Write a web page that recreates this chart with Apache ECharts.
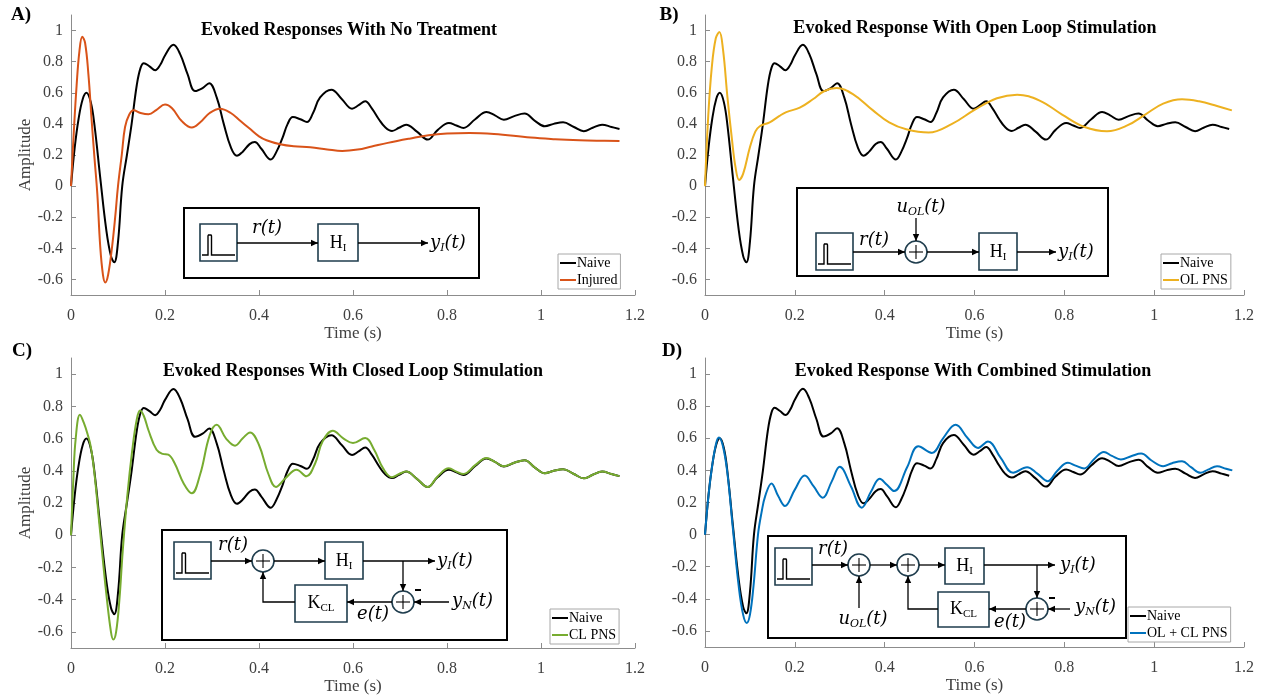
<!DOCTYPE html>
<html>
<head>
<meta charset="utf-8">
<script src="https://cdn.jsdelivr.net/npm/echarts@6/dist/echarts.min.js"></script>
<style>
  html, body { margin: 0; background: #fff; }
  #chart { width: 1268px; height: 696px; }
</style>
</head>
<body>
<div id="chart"></div>
<script>
// values (time in s, amplitude)
const naiveTime = [0, 0.008, 0.016, 0.025, 0.033, 0.042, 0.05, 0.062, 0.075, 0.085, 0.092, 0.1, 0.109, 0.119, 0.129, 0.14, 0.148, 0.155, 0.167, 0.179, 0.19, 0.2, 0.218, 0.232, 0.248, 0.264, 0.28, 0.294, 0.31, 0.325, 0.34, 0.353, 0.365, 0.38, 0.391, 0.405, 0.425, 0.437, 0.45, 0.461, 0.472, 0.488, 0.502, 0.515, 0.53, 0.554, 0.576, 0.598, 0.612, 0.626, 0.64, 0.655, 0.668, 0.683, 0.698, 0.713, 0.736, 0.759, 0.78, 0.804, 0.82, 0.835, 0.86, 0.884, 0.902, 0.921, 0.943, 0.965, 0.987, 1.008, 1.027, 1.047, 1.07, 1.091, 1.11, 1.13, 1.15, 1.167];
const naiveAmp = [0, 0.25, 0.43, 0.56, 0.6, 0.54, 0.39, 0.06, -0.28, -0.45, -0.49, -0.36, 0.0, 0.2, 0.4, 0.65, 0.76, 0.79, 0.77, 0.745, 0.78, 0.84, 0.908, 0.85, 0.72, 0.611, 0.63, 0.662, 0.57, 0.4, 0.25, 0.195, 0.22, 0.27, 0.284, 0.24, 0.171, 0.22, 0.31, 0.4, 0.444, 0.43, 0.412, 0.47, 0.57, 0.62, 0.56, 0.498, 0.52, 0.545, 0.5, 0.43, 0.38, 0.355, 0.375, 0.395, 0.35, 0.299, 0.36, 0.406, 0.39, 0.374, 0.43, 0.476, 0.455, 0.427, 0.45, 0.466, 0.42, 0.385, 0.4, 0.41, 0.38, 0.353, 0.375, 0.395, 0.38, 0.367];

const injuredTime = [0, 0.006, 0.012, 0.018, 0.024, 0.03, 0.037, 0.044, 0.05, 0.056, 0.062, 0.068, 0.073, 0.079, 0.087, 0.094, 0.1, 0.108, 0.115, 0.124, 0.133, 0.148, 0.165, 0.182, 0.2, 0.215, 0.235, 0.257, 0.275, 0.295, 0.317, 0.34, 0.36, 0.38, 0.4, 0.416, 0.445, 0.474, 0.509, 0.545, 0.577, 0.61, 0.64, 0.674, 0.72, 0.761, 0.8, 0.848, 0.9, 0.978, 1.03, 1.082, 1.12, 1.167];
const injuredAmp = [0, 0.35, 0.65, 0.87, 0.96, 0.92, 0.72, 0.42, 0.18, -0.05, -0.38, -0.57, -0.62, -0.57, -0.4, -0.2, 0.0, 0.2, 0.38, 0.46, 0.487, 0.47, 0.462, 0.49, 0.524, 0.5, 0.42, 0.376, 0.41, 0.47, 0.498, 0.47, 0.42, 0.37, 0.32, 0.295, 0.269, 0.256, 0.25, 0.236, 0.226, 0.235, 0.255, 0.278, 0.305, 0.327, 0.338, 0.342, 0.335, 0.312, 0.302, 0.295, 0.292, 0.29];

const olTime = [0, 0.007, 0.015, 0.024, 0.032, 0.04, 0.05, 0.06, 0.068, 0.076, 0.085, 0.1, 0.112, 0.122, 0.144, 0.165, 0.181, 0.211, 0.241, 0.265, 0.293, 0.33, 0.374, 0.41, 0.448, 0.498, 0.55, 0.6, 0.65, 0.695, 0.745, 0.795, 0.845, 0.895, 0.94, 0.98, 1.02, 1.062, 1.1, 1.14, 1.173];
const olAmp = [0, 0.44, 0.76, 0.95, 0.99, 0.88, 0.57, 0.3, 0.12, 0.04, 0.08, 0.25, 0.35, 0.385, 0.41, 0.45, 0.476, 0.504, 0.56, 0.61, 0.63, 0.59, 0.487, 0.41, 0.365, 0.344, 0.4, 0.49, 0.565, 0.588, 0.55, 0.46, 0.38, 0.353, 0.39, 0.46, 0.53, 0.558, 0.545, 0.515, 0.487];

const clTime = [0, 0.005, 0.01, 0.019, 0.027, 0.035, 0.042, 0.05, 0.062, 0.075, 0.085, 0.09, 0.096, 0.103, 0.11, 0.12, 0.13, 0.14, 0.147, 0.155, 0.165, 0.182, 0.195, 0.207, 0.22, 0.24, 0.257, 0.275, 0.295, 0.31, 0.33, 0.349, 0.365, 0.381, 0.4, 0.42, 0.436, 0.455, 0.48, 0.501, 0.52, 0.535, 0.557, 0.58, 0.6, 0.626, 0.645, 0.665, 0.683, 0.698, 0.713, 0.736, 0.759, 0.78, 0.804, 0.82, 0.835, 0.86, 0.884, 0.902, 0.921, 0.943, 0.965, 0.987, 1.008, 1.027, 1.047, 1.07, 1.091, 1.11, 1.13, 1.15, 1.167];
const clAmp = [0, 0.35, 0.6, 0.747, 0.7, 0.63, 0.55, 0.38, 0.02, -0.36, -0.6, -0.648, -0.6, -0.4, -0.1, 0.25, 0.52, 0.72, 0.774, 0.74, 0.65, 0.53, 0.505, 0.5, 0.45, 0.32, 0.26, 0.38, 0.62, 0.685, 0.6, 0.556, 0.6, 0.638, 0.56, 0.38, 0.3, 0.35, 0.407, 0.366, 0.45, 0.58, 0.648, 0.6, 0.572, 0.603, 0.53, 0.41, 0.36, 0.38, 0.395, 0.35, 0.299, 0.365, 0.415, 0.395, 0.38, 0.435, 0.48, 0.455, 0.428, 0.45, 0.466, 0.42, 0.385, 0.4, 0.41, 0.38, 0.353, 0.375, 0.395, 0.38, 0.367];

const olclTime = [0, 0.008, 0.016, 0.025, 0.031, 0.04, 0.05, 0.062, 0.075, 0.085, 0.093, 0.1, 0.108, 0.118, 0.126, 0.134, 0.148, 0.163, 0.178, 0.2, 0.222, 0.242, 0.262, 0.282, 0.3, 0.325, 0.349, 0.37, 0.389, 0.405, 0.421, 0.45, 0.475, 0.505, 0.53, 0.558, 0.585, 0.608, 0.63, 0.658, 0.686, 0.717, 0.74, 0.763, 0.785, 0.808, 0.825, 0.844, 0.866, 0.888, 0.906, 0.926, 0.95, 0.971, 0.995, 1.02, 1.04, 1.062, 1.082, 1.103, 1.12, 1.14, 1.16, 1.174];
const olclAmp = [0, 0.25, 0.43, 0.57, 0.605, 0.55, 0.38, 0.04, -0.32, -0.5, -0.55, -0.5, -0.32, 0.0, 0.14, 0.24, 0.319, 0.24, 0.178, 0.28, 0.368, 0.3, 0.23, 0.33, 0.422, 0.3, 0.168, 0.27, 0.348, 0.31, 0.271, 0.42, 0.55, 0.509, 0.6, 0.684, 0.6, 0.54, 0.58, 0.48, 0.385, 0.42, 0.38, 0.333, 0.4, 0.447, 0.43, 0.412, 0.47, 0.515, 0.49, 0.468, 0.49, 0.505, 0.46, 0.426, 0.445, 0.457, 0.42, 0.385, 0.405, 0.426, 0.41, 0.4];

const yTickValues = [-0.6, -0.4, -0.2, 0, 0.2, 0.4, 0.6, 0.8, 1];

const SERIF = '"Liberation Serif", "Times New Roman", serif';
const MATH = '"DejaVu Serif", serif';
const AXIS_GREY = '#8c8c8c';
const LABEL_GREY = '#404040';
const BOX_INK = '#1f3d4d';

const pairs = (t, v) => t.map((x, i) => [x, v[i]]);

const panels = [
  { grid: { left: 71, top: 15, width: 564, height: 280 }, title: 'Evoked Responses With No Treatment', titleAt: [349, 30],
    tag: 'A)', tagAt: [21, 15], yName: true, legend: [558, 254],
    other: { name: 'Injured', color: '#D95319', t: injuredTime, v: injuredAmp } },
  { grid: { left: 705, top: 15, width: 539, height: 280 }, title: 'Evoked Response With Open Loop Stimulation', titleAt: [975, 28],
    tag: 'B)', tagAt: [669, 15], yName: false, legend: [1161, 254],
    other: { name: 'OL PNS', color: '#EDB120', t: olTime, v: olAmp } },
  { grid: { left: 71, top: 358, width: 564, height: 290 }, title: 'Evoked Responses With Closed Loop Stimulation', titleAt: [353, 371],
    tag: 'C)', tagAt: [22, 351], yName: true, legend: [550, 609],
    other: { name: 'CL PNS', color: '#77AC30', t: clTime, v: clAmp } },
  { grid: { left: 705, top: 358, width: 539, height: 289 }, title: 'Evoked Response With Combined Stimulation', titleAt: [973, 371],
    tag: 'D)', tagAt: [672, 351], yName: false, legend: [1128, 607],
    other: { name: 'OL + CL PNS', color: '#0072BD', t: olclTime, v: olclAmp } }
];

// ---- block diagrams (graphic elements) ----
const G = [];
const ctx = document.createElement('canvas').getContext('2d');

function txt(x, y, s, font, align) {
  G.push({ type: 'text', x: x, y: y, z: 30,
    style: { text: s, font: font, fill: '#000', align: align || 'left', verticalAlign: 'middle',
             textAlign: align || 'left', textVerticalAlign: 'middle' } });
}
function fontOf(k) {
  const sub = k[0] === 's';
  const it = k[k.length - 1] === 'i';
  return (it ? 'italic ' : '') + (sub ? 11 : 18) + 'px ' + (it ? MATH : SERIF);
}
function mtext(x, y, parts, align) {
  const ws = parts.map(([s, k]) => { ctx.font = fontOf(k); return ctx.measureText(s).width; });
  const total = ws.reduce((a, b) => a + b, 0);
  let cx = align === 'center' ? x - total / 2 : x;
  parts.forEach(([s, k], i) => {
    txt(cx, y + (k[0] === 's' ? 5 : 0), s, fontOf(k), 'left');
    cx += ws[i];
  });
}
function frame(x, y, w, h) {
  G.push({ type: 'rect', z: 20, shape: { x, y, width: w, height: h },
    style: { fill: '#fff', stroke: '#000', lineWidth: 2 } });
}
function box(x, y, w, h) {
  G.push({ type: 'rect', z: 21, shape: { x, y, width: w, height: h },
    style: { fill: '#fff', stroke: BOX_INK, lineWidth: 1.6 } });
}
function seg(points, w) {
  G.push({ type: 'polyline', z: 22, shape: { points },
    style: { stroke: '#000', lineWidth: w || 1.3, fill: null } });
}
function arrow(points) {
  seg(points);
  const [x2, y2] = points[points.length - 1];
  const [x1, y1] = points[points.length - 2];
  const len = Math.hypot(x2 - x1, y2 - y1);
  const dx = (x2 - x1) / len, dy = (y2 - y1) / len;
  G.push({ type: 'polygon', z: 23, shape: { points: [
    [x2, y2], [x2 - dx * 7 - dy * 3.2, y2 - dy * 7 + dx * 3.2], [x2 - dx * 7 + dy * 3.2, y2 - dy * 7 - dx * 3.2]
  ] }, style: { fill: '#000' } });
}
function sum(cx, cy) {
  G.push({ type: 'circle', z: 21, shape: { cx, cy, r: 11 },
    style: { fill: '#fff', stroke: BOX_INK, lineWidth: 1.6 } });
  seg([[cx - 7, cy], [cx + 7, cy]], 1.1);
  seg([[cx, cy - 7], [cx, cy + 7]], 1.1);
}
function pulse(x, y, s) {
  box(x, y, s, s);
  const b = y + s - 6;
  seg([[x + 2, b], [x + 8, b], [x + 8, y + 12], [x + 8.5, y + 11], [x + 11, y + 11], [x + 11.5, y + 12], [x + 11.5, b], [x + s - 2, b]], 1.4);
}
const H_I = [['H', 'u'], ['I', 'su']];
const K_CL = [['K', 'u'], ['CL', 'su']];
const Y_I = [['y', 'i'], ['I', 'si'], ['(t)', 'i']];
const Y_N = [['y', 'i'], ['N', 'si'], ['(t)', 'i']];
const U_OL = [['u', 'i'], ['OL', 'si'], ['(t)', 'i']];
const R_T = [['r(t)', 'i']];
const E_T = [['e(t)', 'i']];
function minus(x, y) { seg([[x - 3, y], [x + 3, y]], 2); }

// A
frame(184, 208, 295, 70);
pulse(200, 224, 37);
mtext(267, 228, R_T, 'center');
arrow([[237, 243], [318, 243]]);
box(318, 224, 40, 37); mtext(338, 243, H_I, 'center');
arrow([[358, 243], [428, 243]]);
mtext(430, 243, Y_I);

// B
frame(797, 188, 311, 88);
pulse(816, 233, 37);
mtext(874, 240, R_T, 'center');
arrow([[853, 252], [905, 252]]);
sum(916, 252);
mtext(921, 207, U_OL, 'center');
arrow([[916, 218], [916, 241]]);
arrow([[927, 252], [979, 252]]);
box(979, 233, 38, 37); mtext(998, 252, H_I, 'center');
arrow([[1017, 252], [1056, 252]]);
mtext(1058, 252, Y_I);

// C
frame(162, 530, 345, 110);
pulse(174, 542, 37);
mtext(233, 545, R_T, 'center');
arrow([[211, 561], [252, 561]]);
sum(263, 561);
arrow([[274, 561], [325, 561]]);
box(325, 542, 38, 37); mtext(344, 561, H_I, 'center');
arrow([[363, 561], [435, 561]]);
mtext(437, 561, Y_I);
arrow([[403, 561], [403, 591]]);
sum(403, 602);
minus(418, 590);
mtext(452, 601, Y_N);
arrow([[449, 602], [414, 602]]);
arrow([[392, 602], [347, 602]]);
mtext(373, 614, E_T, 'center');
box(295, 585, 52, 37); mtext(321, 603.5, K_CL, 'center');
arrow([[295, 602], [263, 602], [263, 572]]);

// D
frame(768, 536, 358, 102);
pulse(775, 548, 37);
mtext(833, 549, R_T, 'center');
arrow([[812, 565], [848, 565]]);
sum(859, 565);
mtext(863, 619, U_OL, 'center');
arrow([[859, 608], [859, 576]]);
arrow([[870, 565], [897, 565]]);
sum(908, 565);
arrow([[919, 565], [945, 565]]);
box(945, 548, 39, 36); mtext(964.5, 566, H_I, 'center');
arrow([[984, 565], [1055, 565]]);
mtext(1060, 565, Y_I);
arrow([[1037, 565], [1037, 598]]);
sum(1037, 609);
minus(1052, 598);
mtext(1075, 607, Y_N);
arrow([[1070, 609], [1048, 609]]);
arrow([[1026, 609], [989, 609]]);
mtext(1010, 622, E_T, 'center');
box(938, 592, 51, 35); mtext(963.5, 609.5, K_CL, 'center');
arrow([[938, 609], [908, 609], [908, 576]]);

// titles and panel tags
panels.forEach(p => {
  txt(p.titleAt[0], p.titleAt[1], p.title, 'bold 18px ' + SERIF, 'center');
  txt(p.tagAt[0], p.tagAt[1], p.tag, 'bold 19px ' + SERIF, 'center');
});

const option = {
  animation: false,
  backgroundColor: '#fff',
  grid: panels.map(p => p.grid),
  xAxis: panels.map((p, i) => ({
    type: 'value', gridIndex: i, min: 0, max: 1.2, interval: 0.2,
    name: 'Time (s)', nameLocation: 'middle', nameGap: 30,
    nameTextStyle: { fontFamily: SERIF, fontSize: 17, color: LABEL_GREY },
    axisLine: { onZero: false, lineStyle: { color: AXIS_GREY, width: 1 } },
    axisTick: { inside: true, length: 5, lineStyle: { color: AXIS_GREY } },
    axisLabel: { margin: 13, fontFamily: SERIF, fontSize: 16, color: LABEL_GREY },
    splitLine: { show: false }
  })),
  yAxis: panels.map((p, i) => ({
    type: 'value', gridIndex: i, min: -0.7, max: 1.1,
    name: p.yName ? 'Amplitude' : '', nameLocation: 'middle', nameGap: 35,
    nameTextStyle: { fontFamily: SERIF, fontSize: 17, color: LABEL_GREY },
    axisLine: { show: true, onZero: false, lineStyle: { color: AXIS_GREY, width: 1 } },
    axisTick: { show: true, inside: true, length: 5, customValues: yTickValues, lineStyle: { color: AXIS_GREY } },
    axisLabel: { margin: 8, fontFamily: SERIF, fontSize: 16, color: LABEL_GREY, customValues: yTickValues },
    splitLine: { show: false }
  })),
  legend: panels.map(p => ({
    left: p.legend[0], top: p.legend[1], orient: 'vertical',
    data: ['Naive', p.other.name],
    icon: 'rect', itemWidth: 16, itemHeight: 2, itemGap: 3,
    padding: [2, 3, 2, 2],
    backgroundColor: '#fff', borderColor: '#a8a8a8', borderWidth: 1, borderRadius: 0,
    textStyle: { fontFamily: SERIF, fontSize: 14, color: '#000', padding: [0, 0, 0, -4] },
    selectedMode: false
  })),
  series: panels.flatMap((p, i) => [
    { name: 'Naive', type: 'line', xAxisIndex: i, yAxisIndex: i, data: pairs(naiveTime, naiveAmp),
      symbol: 'none', smooth: 0.4, lineStyle: { color: '#000', width: 2 }, itemStyle: { color: '#000' }, z: 3 },
    { name: p.other.name, type: 'line', xAxisIndex: i, yAxisIndex: i, data: pairs(p.other.t, p.other.v),
      symbol: 'none', smooth: 0.4, lineStyle: { color: p.other.color, width: 2 }, itemStyle: { color: p.other.color }, z: 4 }
  ]),
  graphic: { elements: G }
};

const chart = echarts.init(document.getElementById('chart'), null, { renderer: 'canvas' });
chart.setOption(option);
</script>
</body>
</html>
